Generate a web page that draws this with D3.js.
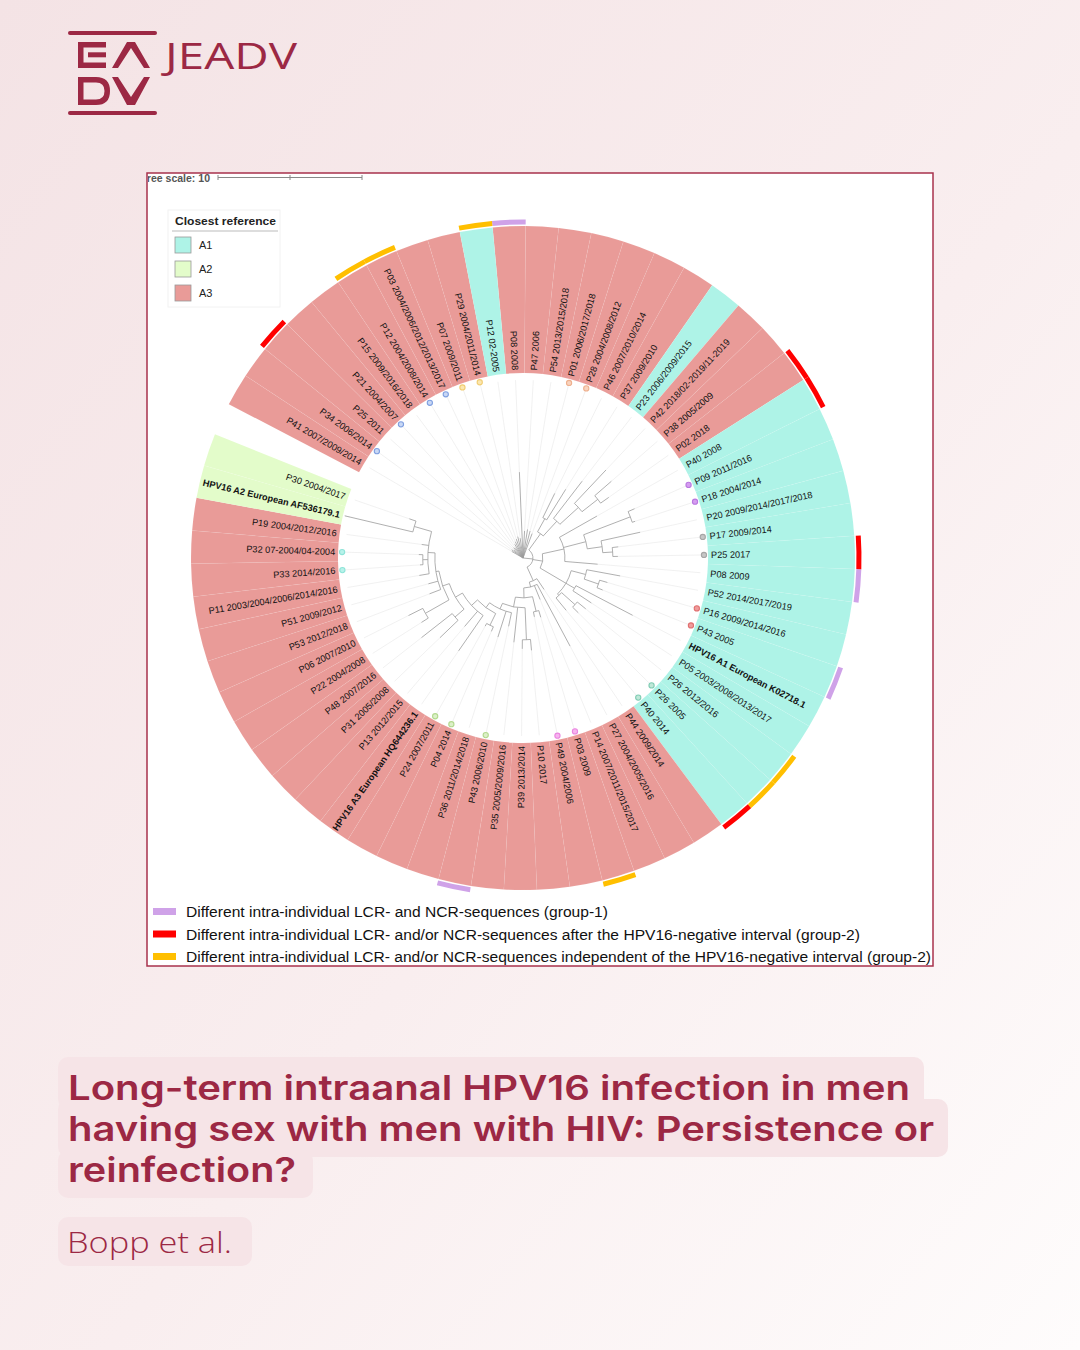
<!DOCTYPE html>
<html>
<head>
<meta charset="utf-8">
<script src="https://cdn.jsdelivr.net/npm/d3@7"></script>
<style>
  body { margin: 0; }
  svg { display: block; }
</style>
</head>
<body>
<script>

// ---- data ----
// leaves in clockwise order, one slot each; slot 52 is an empty gap
var leafLabels = [
  "P08 2008", "P47 2006", "P54 2013/2015/2018", "P01 2006/2017/2018", "P28 2004/2008/2012",
  "P46 2007/2010/2014", "P37 2009/2010", "P23 2006/2009/2015", "P42 2018/02-2019/11-2019", "P38 2005/2009",
  "P02 2018", "P40 2008", "P09 2011/2016", "P18 2004/2014", "P20 2009/2014/2017/2018",
  "P17 2009/2014", "P25 2017", "P08 2009", "P52 2014/2017/2019", "P16 2009/2014/2016",
  "P43 2005", "HPV16 A1 European K02718.1", "P05 2003/2008/2013/2017", "P26 2012/2016", "P26 2005",
  "P40 2014", "P44 2009/2014", "P27 2004/2005/2016", "P14 2007/2011/2015/2017", "P03 2009",
  "P49 2004/2006", "P10 2017", "P39 2013/2014", "P35 2005/2009/2016", "P43 2006/2010",
  "P36 2011/2014/2018", "P04 2014", "P24 2007/2011", "HPV16 A3 European HQ644236.1", "P13 2012/2015",
  "P31 2005/2008", "P48 2007/2016", "P22 2004/2008", "P06 2007/2010", "P53 2012/2018",
  "P51 2009/2012", "P11 2003/2004/2006/2014/2016", "P33 2014/2016", "P32 07-2004/04-2004", "P19 2004/2012/2016",
  "HPV16 A2 European AF536179.1", "P30 2004/2017", null, "P41 2007/2009/2014", "P34 2006/2014",
  "P25 2011", "P21 2004/2007", "P15 2009/2016/2018", "P12 2004/2008/2014", "P03 2004/2006/2012/2013/2017",
  "P07 2009/2011", "P29 2004/2011/2014", "P12 02-2005"
];

var leafClade = [
  "A3","A3","A3","A3","A3","A3","A3","A1","A3","A3",
  "A3","A1","A1","A1","A1","A1","A1","A1","A1","A1",
  "A1","A1","A1","A1","A1","A1","A3","A3","A3","A3",
  "A3","A3","A3","A3","A3","A3","A3","A3","A3","A3",
  "A3","A3","A3","A3","A3","A3","A3","A3","A3","A3",
  "A2","A2",null,"A3","A3","A3","A3","A3","A3","A3",
  "A3","A3","A1"
];

var cladeNames = ["A1", "A2", "A3"];
var cladeColors = ["#aef3e7", "#e3fcca", "#e99b98"];

// tree (leaf names are slot numbers, branch lengths in tree units)
var treeUp = "((5:1.88,6:2.50):1.04,(7:3.26,(8:3.19,(9:1.53,10:0.69):1.39):1.74):1.39)";
var treeRight = "((11:2.99,((12:0.49,13:0.21):3.47,(14:2.78,(15:0.42,16:0.35):0.69):1.04):1.60,17:2.29):1.53," +
  "((18:2.36,(19:0.56,20:0.42):1.04):1.04,(21:4.44,22:1.53):0.69,((23:0.76,24:0.56):1.25,25:1.11):0.14):2.08)";
var treeBottom = "(26:0.90,(27:4.86,28:1.04,((29:0.49,30:0.35):1.04,((31:0.76,32:0.63):2.22,33:2.43," +
  "(34:0.97,35:1.88,((36:0.35,37:0.21):0.90,(38:2.99,39:1.39,((40:1.74,41:2.71):0.83," +
  "((42:0.56,43:1.11):1.88,(44:0.83,45:0.69,(46:0.69,(47:0.21,48:0.28):0.35,49:0.49," +
  "(50:4.86,51:0.49):1.25):0.49):0.21):0.49):0.56):0.56):0.42):0.42):0.69):0.69):0.35)";
var treeNewick = "(53:0.90,54:0.97,55:0.83,56:0.97,57:0.90,58:1.11,59:1.25,60:1.39,61:1.53,62:1.39," +
  "0:5.97,1:1.88,2:2.01,3:1.94,4:1.81,(" + treeUp + ":1.39," + treeRight + ":0.69," + treeBottom + ":1.04):0.69);";

// coloured dots next to the labels (pairs of the same patient)
var markerSlots = [54, 56, 58, 59, 60, 61, 3, 4, 12, 13, 15, 16, 19, 20, 24, 25, 29, 30, 34, 36, 37, 47, 48];
var markerKinds = ["blue","blue","blue","blue","yellow","yellow","orange","orange","purple","purple",
  "gray","gray","red","red","teal","teal","pink","pink","green","green","green","cyan","cyan"];
var markerFill = { blue: "#c9d8f5", yellow: "#fbe7b0", orange: "#f9d3be", purple: "#d59cf0", gray: "#c6c6c6",
  red: "#ef9c9c", teal: "#bfe8d8", pink: "#f6b3ef", green: "#dcf0c8", cyan: "#b8f2ea" };
var markerStroke = { blue: "#7f9fe0", yellow: "#f1cd74", orange: "#eeb08e", purple: "#b978e0", gray: "#a6a6a6",
  red: "#e07070", teal: "#80ccb4", pink: "#ea85e0", green: "#b2d98e", cyan: "#8ee4d8" };

// outer strips
var stripSlots = [0, 17, 20, 34, 55, 10, 11, 16, 25, 58, 59, 62, 23, 24, 29];
var stripKinds = [0, 0, 0, 0, 1, 1, 1, 1, 1, 2, 2, 2, 2, 2, 2];

var groupLabels = [
  "Different intra-individual LCR- and NCR-sequences (group-1)",
  "Different intra-individual LCR- and/or NCR-sequences after the HPV16-negative interval (group-2)",
  "Different intra-individual LCR- and/or NCR-sequences independent of the HPV16-negative interval (group-2)"
];
var groupColors = ["#cfa2e8", "#ff0000", "#ffbf00"];
var groupTextWidths = [422, 674, 745];

var titleLines = [
  "Long-term intraanal HPV16 infection in men",
  "having sex with men with HIV: Persistence or",
  "reinfection?"
];
var titleWidths = [842, 866, 228];
var authors = "Bopp et al.";

// ---- setup ----
var width = 1080,
    height = 1350,
    brand = "#9c2844";

var svg = d3.select("body").append("svg")
  .attr("width", width)
  .attr("height", height);

var defs = svg.append("defs");
var bg = defs.append("linearGradient").attr("id", "bg")
  .attr("x1", 0).attr("y1", 0).attr("x2", 1).attr("y2", 1);
bg.append("stop").attr("offset", 0).attr("stop-color", "#f4e3e5");
bg.append("stop").attr("offset", 0.55).attr("stop-color", "#f9eeef");
bg.append("stop").attr("offset", 1).attr("stop-color", "#fefcfc");

defs.append("clipPath").attr("id", "chartclip")
  .append("rect").attr("x", 148).attr("y", 174).attr("width", 784).attr("height", 791);

svg.append("rect").attr("width", width).attr("height", height).attr("fill", "url(#bg)");

// ---- logo ----
var logo = svg.append("g").attr("fill", brand);
logo.append("rect").attr("x", 68).attr("y", 31).attr("width", 89).attr("height", 4).attr("rx", 2);
logo.append("rect").attr("x", 68).attr("y", 111).attr("width", 89).attr("height", 4).attr("rx", 2);
logo.append("rect").attr("x", 78).attr("y", 42).attr("width", 28).attr("height", 5.5);
logo.append("rect").attr("x", 78).attr("y", 42).attr("width", 5.5).attr("height", 26);
logo.append("rect").attr("x", 78).attr("y", 62.5).attr("width", 28).attr("height", 5.5);
logo.append("rect").attr("x", 88).attr("y", 52.3).attr("width", 18).attr("height", 5);
logo.append("polygon").attr("points", "112,68 127,42 135,42 150,68 144,68 131,48 118,68");
logo.append("path").attr("fill-rule", "evenodd")
  .attr("d", "M78 77 H96 Q110 77 110 91 Q110 105 96 105 H78 Z M83.5 82.5 H96 Q104.5 82.5 104.5 91 Q104.5 99.5 96 99.5 H83.5 Z");
logo.append("polygon").attr("points", "112,77 118,77 131,97 144,77 150,77 135,105 127,105");
logo.append("text").attr("x", 165).attr("y", 68.5)
  .attr("font-family", "'Open Sans', sans-serif").attr("font-size", 36).attr("font-weight", 400)
  .attr("textLength", 132).attr("lengthAdjust", "spacingAndGlyphs")
  .text("JEADV");

// ---- chart frame ----
svg.append("rect").attr("x", 147).attr("y", 173).attr("width", 786).attr("height", 793)
  .attr("fill", "#fff").attr("stroke", "#a8324c").attr("stroke-width", 1.5);

var chart = svg.append("g").attr("clip-path", "url(#chartclip)");

// tree scale
var rScale = d3.scaleLinear().domain([0, 10]).range([0, 144]);
chart.append("text").attr("x", 141).attr("y", 181.5)
  .attr("font-family", "'Liberation Sans', Arial, sans-serif").attr("font-size", 10)
  .attr("font-weight", "bold").attr("fill", "#555")
  .attr("textLength", 69).attr("lengthAdjust", "spacingAndGlyphs")
  .text("Tree scale: 10");
var sb = chart.append("g").attr("transform", "translate(218,177.5)").attr("stroke", "#888").attr("stroke-width", 1);
sb.append("line").attr("x1", 0).attr("x2", rScale(10));
[0, 5, 10].forEach(function (t) {
  sb.append("line").attr("x1", rScale(t)).attr("x2", rScale(t)).attr("y1", -2.5).attr("y2", 2.5);
});

// ---- circular tree ----
var cx = 523, cy = 558,
    ringInner = 185, ringOuter = 332,
    labelR = 188, dotR = 181,
    step = 360 / 63, half = step / 2;

var slotAngle = d3.scaleLinear().domain([0, 63]).range([-2.4, 357.6]);
function angleOf(slot) { return slotAngle(slot >= 53 ? slot - 63 : slot); }
function rad(a) { return a * Math.PI / 180; }
function pt(a, r) { return [r * Math.sin(rad(a)), -r * Math.cos(rad(a))]; }

var g = chart.append("g").attr("transform", "translate(" + cx + "," + cy + ")");

var slots = d3.range(leafLabels.length).filter(function (s) { return leafLabels[s] !== null; });

// clade ring
var wedge = d3.arc().innerRadius(ringInner).outerRadius(ringOuter);
g.selectAll("path.wedge")
  .data(slots)
  .join("path")
  .attr("class", "wedge")
  .attr("d", function (s) {
    var a = angleOf(s);
    return wedge({ startAngle: rad(a - half), endAngle: rad(a + half) });
  })
  .attr("fill", function (s) { return cladeColors[cladeNames.indexOf(leafClade[s])]; })
  .attr("stroke", "rgba(255,255,255,0.12)")
  .attr("stroke-width", 0.5);

// outer strips
var strip = d3.arc().innerRadius(333.5).outerRadius(338.5);
g.selectAll("path.strip")
  .data(stripSlots)
  .join("path")
  .attr("class", "strip")
  .attr("d", function (s) {
    var a = angleOf(s);
    return strip({ startAngle: rad(a - half), endAngle: rad(a + half) });
  })
  .attr("fill", function (s, i) { return groupColors[stripKinds[i]]; });

// parse newick
function parseNewick(s) {
  var i = 0;
  function node() {
    var n = { children: [] };
    if (s[i] === "(") {
      i++;
      while (true) {
        n.children.push(node());
        if (s[i] === ",") { i++; } else { break; }
      }
      i++;
    }
    var name = "";
    while (i < s.length && ":,);".indexOf(s[i]) < 0) name += s[i++];
    n.name = name;
    n.length = 0;
    if (s[i] === ":") {
      i++;
      var l = "";
      while (i < s.length && ",);".indexOf(s[i]) < 0) l += s[i++];
      n.length = +l;
    }
    return n;
  }
  return node();
}

var root = d3.hierarchy(parseNewick(treeNewick), function (d) { return d.children.length ? d.children : null; });
root.each(function (d) { d.dist = d.parent ? d.parent.dist + d.data.length : 0; });
root.eachAfter(function (d) {
  if (!d.children) {
    d.slot = +d.data.name;
    d.angle = angleOf(d.slot);
  } else {
    d.angle = (d.children[0].angle + d.children[d.children.length - 1].angle) / 2;
  }
});

// guide lines from tips to labels
g.selectAll("line.guide")
  .data(root.leaves())
  .join("line")
  .attr("class", "guide")
  .attr("x1", function (d) { return pt(d.angle, rScale(d.dist))[0]; })
  .attr("y1", function (d) { return pt(d.angle, rScale(d.dist))[1]; })
  .attr("x2", function (d) { return pt(d.angle, dotR - 3)[0]; })
  .attr("y2", function (d) { return pt(d.angle, dotR - 3)[1]; })
  .attr("stroke", "#e8e8e8")
  .attr("stroke-width", 0.6);

// branches
g.selectAll("line.branch")
  .data(root.descendants().filter(function (d) { return d.parent; }))
  .join("line")
  .attr("class", "branch")
  .attr("x1", function (d) { return pt(d.angle, rScale(d.parent.dist))[0]; })
  .attr("y1", function (d) { return pt(d.angle, rScale(d.parent.dist))[1]; })
  .attr("x2", function (d) { return pt(d.angle, rScale(d.dist))[0]; })
  .attr("y2", function (d) { return pt(d.angle, rScale(d.dist))[1]; })
  .attr("stroke", "#9c9c9c")
  .attr("stroke-width", 0.8);

g.selectAll("path.node")
  .data(root.descendants().filter(function (d) { return d.children && d.dist > 0; }))
  .join("path")
  .attr("class", "node")
  .attr("d", function (d) {
    var r = rScale(d.dist),
        a0 = d.children[0].angle,
        a1 = d.children[d.children.length - 1].angle,
        p = d3.path(),
        s = pt(a0, r);
    p.moveTo(s[0], s[1]);
    p.arc(0, 0, r, rad(a0 - 90), rad(a1 - 90), false);
    return p.toString();
  })
  .attr("fill", "none")
  .attr("stroke", "#9c9c9c")
  .attr("stroke-width", 0.8);

// dots
g.selectAll("circle.marker")
  .data(markerSlots)
  .join("circle")
  .attr("class", "marker")
  .attr("cx", function (s) { return pt(angleOf(s), dotR)[0]; })
  .attr("cy", function (s) { return pt(angleOf(s), dotR)[1]; })
  .attr("r", 2.6)
  .attr("fill", function (s, i) { return markerFill[markerKinds[i]]; })
  .attr("stroke", function (s, i) { return markerStroke[markerKinds[i]]; })
  .attr("stroke-width", 1.1);

// labels
g.selectAll("text.leaf")
  .data(slots)
  .join("text")
  .attr("class", "leaf")
  .attr("transform", function (s) {
    var a = angleOf(s), a360 = (a + 360) % 360;
    return "rotate(" + (a - 90) + ") translate(" + labelR + ",0)" + (a360 < 180 ? "" : " rotate(180)");
  })
  .attr("text-anchor", function (s) { return (angleOf(s) + 360) % 360 < 180 ? "start" : "end"; })
  .attr("dy", "0.35em")
  .attr("font-family", "'Liberation Sans', Arial, sans-serif")
  .attr("font-size", 9.2)
  .attr("font-weight", function (s) { return leafLabels[s].indexOf("HPV16") === 0 ? "bold" : "normal"; })
  .attr("fill", "#111")
  .text(function (s) { return leafLabels[s]; });

// ---- clade legend ----
var leg = chart.append("g").attr("font-family", "'Liberation Sans', Arial, sans-serif");
leg.append("rect").attr("x", 168).attr("y", 210).attr("width", 112).attr("height", 97)
  .attr("fill", "#fff").attr("stroke", "#f2f2f2");
leg.append("text").attr("x", 175).attr("y", 225).attr("font-size", 11).attr("font-weight", "bold")
  .attr("fill", "#222")
  .attr("textLength", 101).attr("lengthAdjust", "spacingAndGlyphs")
  .text("Closest reference");
leg.append("line").attr("x1", 172).attr("x2", 278).attr("y1", 231).attr("y2", 231)
  .attr("stroke", "#aaa").attr("stroke-width", 0.8);
leg.selectAll("rect.sw")
  .data(cladeNames)
  .join("rect")
  .attr("class", "sw")
  .attr("x", 175).attr("y", function (d, i) { return 237 + i * 24; })
  .attr("width", 16).attr("height", 16)
  .attr("fill", function (d, i) { return cladeColors[i]; })
  .attr("stroke", "#999").attr("stroke-width", 0.8);
leg.selectAll("text.sw")
  .data(cladeNames)
  .join("text")
  .attr("class", "sw")
  .attr("x", 199).attr("y", function (d, i) { return 249 + i * 24; })
  .attr("font-size", 11).attr("fill", "#222")
  .text(function (d) { return d; });

// ---- group legend ----
var gl = chart.append("g").attr("font-family", "'Liberation Sans', Arial, sans-serif");
gl.selectAll("rect")
  .data(groupLabels)
  .join("rect")
  .attr("x", 153).attr("y", function (d, i) { return 908 + i * 22.5; })
  .attr("width", 23).attr("height", 7)
  .attr("fill", function (d, i) { return groupColors[i]; });
gl.selectAll("text")
  .data(groupLabels)
  .join("text")
  .attr("x", 186).attr("y", function (d, i) { return 917 + i * 22.5; })
  .attr("font-size", 14).attr("fill", "#111")
  .attr("textLength", function (d, i) { return groupTextWidths[i]; })
  .attr("lengthAdjust", "spacingAndGlyphs")
  .text(function (d) { return d; });

// ---- title block ----
var boxes = [[58, 1057, 866, 52], [58, 1099, 890, 58], [58, 1150, 255, 48], [58, 1217, 194, 49]];
svg.selectAll("rect.hl")
  .data(boxes)
  .join("rect")
  .attr("class", "hl")
  .attr("x", function (d) { return d[0]; }).attr("y", function (d) { return d[1]; })
  .attr("width", function (d) { return d[2]; }).attr("height", function (d) { return d[3]; })
  .attr("rx", 10)
  .attr("fill", "#f6e4e7");

svg.selectAll("text.title")
  .data(titleLines)
  .join("text")
  .attr("class", "title")
  .attr("x", 68).attr("y", function (d, i) { return 1100 + i * 41; })
  .attr("font-family", "Inter, 'Open Sans', sans-serif").attr("font-size", 33.8).attr("font-weight", 600)
  .attr("fill", brand)
  .attr("textLength", function (d, i) { return titleWidths[i]; })
  .attr("lengthAdjust", "spacingAndGlyphs")
  .text(function (d) { return d; });

svg.append("text").attr("x", 67).attr("y", 1253)
  .attr("font-family", "'Open Sans', sans-serif").attr("font-size", 30).attr("font-weight", 300)
  .attr("fill", brand)
  .attr("textLength", 165).attr("lengthAdjust", "spacingAndGlyphs")
  .text(authors);

</script>
</body>
</html>
